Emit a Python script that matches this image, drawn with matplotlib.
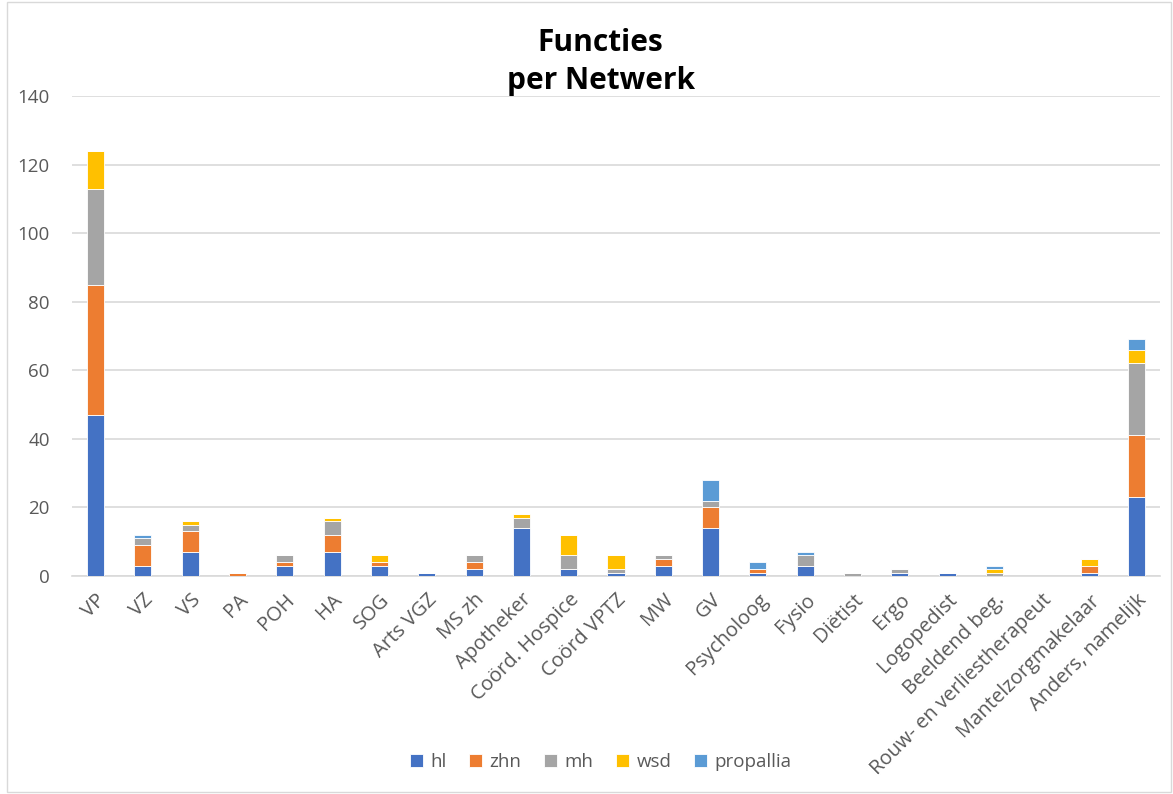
import matplotlib.pyplot as plt
import numpy as np

plt.rcParams['font.family'] = ['Open Sans', 'DejaVu Sans']

# categories and series values
categories = ['VP', 'VZ', 'VS', 'PA', 'POH', 'HA', 'SOG', 'Arts VGZ', 'MS zh',
              'Apotheker', 'Coörd. Hospice', 'Coörd VPTZ', 'MW', 'GV',
              'Psycholoog', 'Fysio', 'Diëtist', 'Ergo', 'Logopedist',
              'Beeldend beg.', 'Rouw- en verliestherapeut', 'Mantelzorgmakelaar',
              'Anders, namelijk']
hl = [47, 3, 7, 0, 3, 7, 3, 1, 2, 14, 2, 1, 3, 14, 1, 3, 0, 1, 1, 0, 0, 1, 23]
zhn = [38, 6, 6, 1, 1, 5, 1, 0, 2, 0, 0, 0, 2, 6, 1, 0, 0, 0, 0, 0, 0, 2, 18]
mh = [28, 2, 2, 0, 2, 4, 0, 0, 2, 3, 4, 1, 1, 2, 0, 3, 1, 1, 0, 1, 0, 0, 21]
wsd = [11, 0, 1, 0, 0, 1, 2, 0, 0, 1, 6, 4, 0, 0, 0, 0, 0, 0, 0, 1, 0, 2, 4]
propallia = [0, 1, 0, 0, 0, 0, 0, 0, 0, 0, 0, 0, 0, 6, 2, 1, 0, 0, 0, 1, 0, 0, 3]

series = [('hl', hl, '#4472C4'), ('zhn', zhn, '#ED7D31'), ('mh', mh, '#A5A5A5'),
          ('wsd', wsd, '#FFC000'), ('propallia', propallia, '#5B9BD5')]

fig = plt.figure(figsize=(11.73, 7.94), dpi=100)
ax = fig.add_axes([0.0614, 0.2746, 0.9275, 0.6045])

x = np.arange(len(categories))
bottom = np.zeros(len(categories))
for name, vals, col in series:
    vals = np.array(vals, dtype=float)
    ax.bar(x, vals, 0.36, bottom=bottom, color=col, label=name,
           edgecolor='white', linewidth=0.6, zorder=3)
    bottom += vals

ax.set_xlim(-0.5, len(categories) - 0.5)
ax.set_ylim(0, 140)
ax.set_yticks(np.arange(0, 141, 20))
ax.grid(axis='y', color='#D9D9D9', linewidth=1.2, zorder=0)
for s in ['top', 'right', 'left']:
    ax.spines[s].set_visible(False)
ax.spines['bottom'].set_color('#D9D9D9')
ax.spines['bottom'].set_linewidth(1.2)
ax.tick_params(axis='both', length=0, colors='#595959')
ax.tick_params(axis='y', pad=16, labelsize=13.5)
ax.tick_params(axis='x', pad=10, labelsize=14.5)
ax.set_xticks(x)
ax.set_xticklabels(categories, rotation=45, ha='right', rotation_mode='anchor')

fig.text(0.512, 0.922, 'Functies\nper Netwerk', ha='center', va='center',
         fontsize=21.5, fontweight='bold', linespacing=1.38, color='black')

ax.legend(loc='center', bbox_to_anchor=(0.512, 0.04), bbox_transform=fig.transFigure,
          ncol=5, frameon=False, fontsize=13.5, handlelength=0.7, handleheight=0.7,
          columnspacing=1.2, handletextpad=0.4, labelcolor='#595959')

fig.patches.append(plt.Rectangle((0.006, 0.002), 0.992, 0.996, transform=fig.transFigure,
                                 fill=False, edgecolor='#D9D9D9', linewidth=1))

fig.savefig('out.png', dpi=100)
